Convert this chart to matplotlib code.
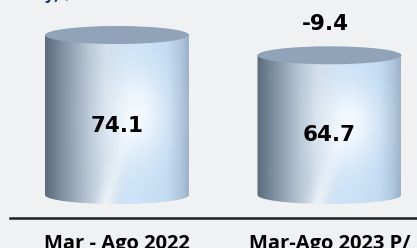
import numpy as np
import matplotlib
matplotlib.use('Agg')
from matplotlib import pyplot as plt
from matplotlib.patches import Ellipse
from matplotlib.path import Path

# data
categories = ['Mar - Ago 2022', 'Mar-Ago 2023 P/']
values = [74.1, 64.7]
value_labels = ['74.1', '64.7']

BG = '#f0f1f3'
W_PX, H_PX = 417, 248


def side_image(n_h=120, n_w=160):
    u = np.linspace(0, 1, n_w)[None, :]
    v = np.linspace(0, 1, n_h)[:, None]
    stops = [0.0, 0.12, 0.30, 0.42, 0.60, 0.85, 0.95, 1.0]
    cols = np.array([[0.36, 0.42, 0.48], [0.50, 0.57, 0.64], [0.72, 0.78, 0.84],
                     [0.82, 0.87, 0.92], [0.80, 0.89, 0.97], [0.76, 0.86, 0.95],
                     [0.68, 0.77, 0.86], [0.62, 0.70, 0.79]])
    img = np.zeros((n_h, n_w, 4))
    for c in range(3):
        img[:, :, c] = np.interp(u[0], stops, cols[:, c])[None, :]
    img[:, :, 3] = 1.0
    glow = 0.8 * np.exp(-((u - 0.64) ** 2 / 0.04 + (v - 0.47) ** 2 / 0.07))
    uc = 0.42 + (1 - v) * 0.33
    streak = 0.55 * np.exp(-(u - uc) ** 2 / 0.004) * np.clip((v - 0.45) / 0.55, 0, 1)
    w = np.clip(glow + streak, 0, 1)
    for c in range(3):
        img[:, :, c] = img[:, :, c] * (1 - w) + w
    return img


fig = plt.figure(figsize=(W_PX / 100, H_PX / 100), dpi=100)
fig.patch.set_facecolor(BG)
ax = fig.add_axes([0, 0, 1, 1])
ax.set_facecolor(BG)

# scale: zero at pixel 195, 74.1 at pixel 35
ppu = 160 / 74.1
ax.set_ylim(-(H_PX - 195) / ppu, 195 / ppu)
ppx = 212.5
ax.set_xlim(-117 / ppx, (W_PX - 117) / ppx)
ax.axis('off')

bw = 144 / ppx
eh = 9 / ppu
img = side_image()

for i, val in enumerate(values):
    xl, xr = i - bw / 2, i + bw / 2
    t = np.linspace(np.pi, 2 * np.pi, 60)
    # side: rectangle closed by the lower half of the base ellipse
    verts = [(xl, val), (xl, 0)] + [(i - bw / 2 * np.cos(a - np.pi), eh * np.sin(a)) for a in t] + [(xr, val), (xl, val)]
    path = Path(verts)
    im = ax.imshow(img, extent=[xl, xr, -eh, val], aspect='auto',
                   interpolation='bilinear', zorder=2)
    im.set_clip_path(path, transform=ax.transData)
    top = Ellipse((i, val), bw, 2 * eh, facecolor='#90a3b8', edgecolor='none', zorder=3)
    ax.add_patch(top)
    ax.text(i, val * 0.43, value_labels[i], ha='center', va='center',
            fontsize=15.5, fontweight='bold', color='black', zorder=4)

diff = round(values[1] - values[0], 1)
ax.text(1 - 4.5 / ppx, values[1] + 14.5, f'{diff}', ha='center', va='center',
        fontsize=15.5, fontweight='bold', color='black')

ax.axhline(-23 / ppu, xmin=10 / W_PX, xmax=1, color='#1e1e1e', lw=1.8)

for i, cat in enumerate(categories):
    ax.text(i, -1.5 / H_PX, cat, ha='center', va='baseline', fontsize=14.5,
            fontweight='bold', family='Open Sans', color='black',
            transform=ax.get_xaxis_transform())

fig.text(0.105, 1.0 + 1 / H_PX, 'y, /', ha='left', va='baseline', fontsize=12,
         fontweight='bold', color='#1f3a6e')

fig.savefig('out.png', dpi=100, facecolor=BG)
